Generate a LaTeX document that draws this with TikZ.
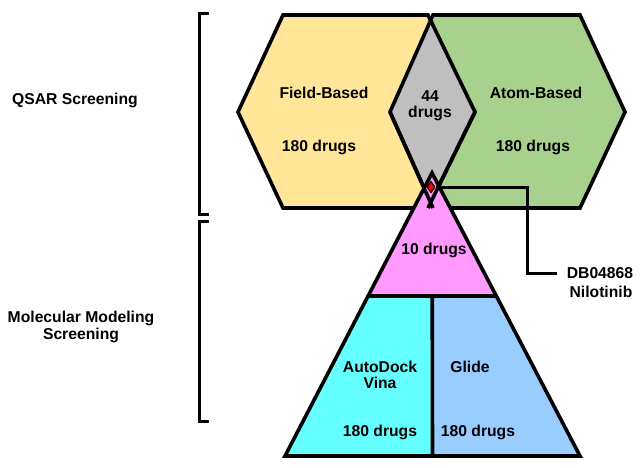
\documentclass[tikz,border=0pt]{standalone}
\usepackage{fontspec}
\setmainfont{Liberation Sans}
\usetikzlibrary{shapes.geometric, calc}

\definecolor{fieldfill}{HTML}{FFE699}
\definecolor{atomfill}{HTML}{A9D18E}
\definecolor{commonfill}{HTML}{BFBFBF}
\definecolor{topfill}{HTML}{FF99FF}
\definecolor{vinafill}{HTML}{66FFFF}
\definecolor{glidefill}{HTML}{99CCFF}

\begin{document}
\begin{tikzpicture}[x=1pt, y=-1pt, line join=miter,
	outline/.style={draw=black, line width=3.6pt},
	lbl/.style={font=\fontsize{15.7}{16.5}\selectfont\bfseries, inner sep=0pt, align=center}]
	\useasboundingbox (0,0) rectangle (640,468);
	% hexagon corners
	\coordinate (F1) at (238,112); \coordinate (F2) at (283,15); \coordinate (F3) at (428,15);
	\coordinate (F4) at (475,112); \coordinate (F5) at (428,208); \coordinate (F6) at (283,208);
	\coordinate (A1) at (390,112); \coordinate (A2) at (433,15); \coordinate (A3) at (580,15);
	\coordinate (A4) at (625,112); \coordinate (A5) at (580,208); \coordinate (A6) at (433,208);
	% pyramid corners
	\coordinate (P) at (432,173);
	\coordinate (BL) at (285,456); \coordinate (BR) at (580,456);
	\coordinate (ML) at ($(P)!0.4346!(BL)$); \coordinate (MR) at ($(P)!0.4346!(BR)$);
	\coordinate (MM) at ($(ML)!0.5!(MR)$); \coordinate (BM) at ($(BL)!0.5!(BR)$);

	\fill[fieldfill] (F1) -- (F2) -- (F3) -- (F4) -- (F5) -- (F6) -- cycle;
	\fill[atomfill] (A1) -- (A2) -- (A3) -- (A4) -- (A5) -- (A6) -- cycle;
	\begin{scope}
		\clip (F1) -- (F2) -- (F3) -- (F4) -- (F5) -- (F6) -- cycle;
		\fill[commonfill] (A1) -- (A2) -- (A3) -- (A4) -- (A5) -- (A6) -- cycle;
	\end{scope}
	\draw[outline] (F1) -- (F2) -- (F3) -- (F4) -- (F5) -- (F6) -- cycle;
	\draw[outline] (A1) -- (A2) -- (A3) -- (A4) -- (A5) -- (A6) -- cycle;

	\fill[topfill] (P) -- (ML) -- (MR) -- cycle;
	\fill[vinafill] (ML) -- (MM) -- (BM) -- (BL) -- cycle;
	\fill[glidefill] (MM) -- (MR) -- (BR) -- (BM) -- cycle;
	\draw[outline] (F4) -- (F5) (A1) -- (A6);
	\draw[outline] (P) -- (BL) -- (BR) -- cycle;
	\draw[outline] (ML) -- (MR) (MM) -- (BM);

	% brackets
	\draw[line width=3pt] (209,14) -- (199,14) -- (199,214) -- (209,214);
	\draw[line width=3pt] (209,221) -- (199,221) -- (199,421) -- (209,421);

	\node[lbl] (qsar) at (75,100) {QSAR Screening};
	\node[lbl] (molmod) at (81,327) {Molecular Modeling\\Screening};

	\node[lbl] (field) at (324,93) {Field-Based};
	\node[lbl] (fieldn) at (319,147) {180 drugs};
	\node[lbl] (atom) at (536,93) {Atom-Based};
	\node[lbl] (atomn) at (533,147) {180 drugs};
	\node[lbl] (common) at (430,106) {44\\drugs};
	\node[lbl] (topn) at (434,250) {10 drugs};
	\node[lbl] (vina) at (380,375) {AutoDock\\Vina};
	\node[lbl] (vinan) at (380,432) {180 drugs};
	\node[lbl] (glide) at (470,367) {Glide};
	\node[lbl] (gliden) at (478,432) {180 drugs};

	% hit and its label
	\node[lbl] (dbid) at (600,273) {DB04868};
	\node[lbl] (nilo) at (601,292) {Nilotinib};
	\coordinate (bend) at (527,187);
	\node[diamond, fill=red, draw=black, line width=1pt, minimum width=8pt, minimum height=11pt, inner sep=0pt] (hit) at (431,187) {};
	\draw[line width=3pt] (hit.east) -- (bend) |- ($(dbid.west)+(-10,0)$);
	\node[diamond, fill=red, draw=black, line width=1pt, minimum width=8pt, minimum height=11pt, inner sep=0pt] at (hit) {};
\end{tikzpicture}
\end{document}
